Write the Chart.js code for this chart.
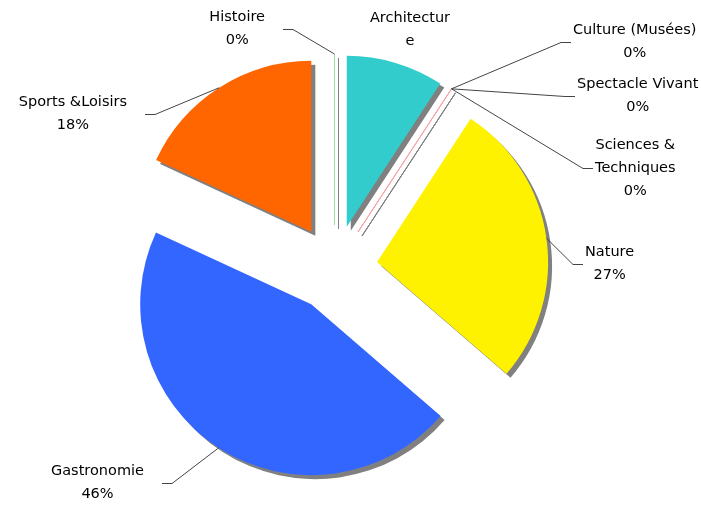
<!DOCTYPE html>
<html>
<head>
<meta charset="utf-8">
<script src="https://cdn.jsdelivr.net/npm/chart.js@4/dist/chart.umd.min.js"></script>
<style>
  html, body { margin: 0; padding: 0; background: #fff; }
  #wrap { width: 701px; height: 505px; position: relative; }
</style>
</head>
<body>
<div id="wrap"><canvas id="pieChart"></canvas></div>
<script>
// categories, clockwise from 12 o'clock
const categories = ['Architecture', 'Culture (Musées)', 'Spectacle Vivant', 'Sciences & Techniques', 'Nature', 'Gastronomie', 'Sports &Loisirs', 'Histoire'];
// share of each category (%)
const shares = [9.2, 0, 0, 0, 27.1, 45.5, 18.1, 0];
// name lines as printed on the chart (percentage appended where shown)
const nameLines = [['Architectur', 'e'], ['Culture (Musées)'], ['Spectacle Vivant'], ['Sciences &', 'Techniques'], ['Nature'], ['Gastronomie'], ['Sports &Loisirs'], ['Histoire']];
const showPct = [false, true, true, true, true, true, true, true];

const sliceColors = ['#33cccc', '#f4a6a6', '#f4a6a6', '#f4a6a6', '#fff200', '#3366ff', '#ff6600', '#9ee09e'];

// label placement: elbow of the leader line and side of the text
const labelLayout = [
  { x: 410, y: 30, side: 'none' },
  { x: 561, y: 42, side: 'right' },
  { x: 565, y: 96, side: 'right' },
  { x: 583, y: 168, side: 'right' },
  { x: 573, y: 264, side: 'right' },
  { x: 172, y: 483, side: 'left' },
  { x: 155, y: 114, side: 'left' },
  { x: 293, y: 29, side: 'left' }
];

const EXPLODE = 43;
const FONT = '14.5px "DejaVu Sans"';
const LINE_H = 23;

const total = shares.reduce((a, b) => a + b, 0);

const explodePlugin = {
  id: 'explode',
  beforeDatasetDraw(chart, args) {
    const ctx = chart.ctx;
    args.meta.data.forEach(arc => {
      const mid = (arc.startAngle + arc.endAngle) / 2;
      arc._home = [arc.x, arc.y];
      arc.x += Math.cos(mid) * EXPLODE;
      arc.y += Math.sin(mid) * EXPLODE;
    });
    ctx.save();
    ctx.shadowColor = '#808080';
    ctx.shadowOffsetX = 4;
    ctx.shadowOffsetY = 4;
    ctx.shadowBlur = 0;
  },
  afterDatasetDraw(chart, args) {
    const ctx = chart.ctx;
    const arcs = args.meta.data;
    // empty slices show as thin lines
    arcs.forEach((arc, i) => {
      if (arc.endAngle - arc.startAngle > 0) return;
      ctx.strokeStyle = sliceColors[i];
      ctx.lineWidth = 1;
      ctx.beginPath();
      ctx.moveTo(arc.x, arc.y);
      ctx.lineTo(arc.x + Math.cos(arc.startAngle) * arc.outerRadius, arc.y + Math.sin(arc.startAngle) * arc.outerRadius);
      ctx.stroke();
    });
    ctx.restore();

    // leader lines and labels
    ctx.save();
    ctx.font = FONT;
    ctx.fillStyle = '#000';
    ctx.textAlign = 'center';
    ctx.textBaseline = 'middle';
    arcs.forEach((arc, i) => {
      const lay = labelLayout[i];
      const lines = nameLines[i].slice();
      if (showPct[i]) lines.push(Math.round(shares[i] / total * 100) + '%');
      const w = Math.max(...lines.map(t => ctx.measureText(t).width));
      let cx = lay.x;
      if (lay.side !== 'none') {
        const mid = (arc.startAngle + arc.endAngle) / 2;
        const sx = arc.x + Math.cos(mid) * arc.outerRadius;
        const sy = arc.y + Math.sin(mid) * arc.outerRadius;
        const dir = lay.side === 'right' ? 1 : -1;
        const tickEnd = lay.x + dir * 10;
        ctx.strokeStyle = '#444';
        ctx.lineWidth = 1;
        ctx.beginPath();
        ctx.moveTo(sx, sy);
        ctx.lineTo(lay.x, lay.y + 0.5);
        ctx.lineTo(tickEnd, lay.y + 0.5);
        ctx.stroke();
        cx = dir > 0 ? tickEnd + 2 + w / 2 : tickEnd - 18 - w / 2;
        // keep the text inside the canvas
        cx = Math.min(cx, chart.width - 2 - w / 2);
      }
      lines.forEach((t, k) => {
        ctx.fillText(t, cx, lay.y + (k - (lines.length - 1) / 2) * LINE_H);
      });
    });
    ctx.restore();

    arcs.forEach(arc => {
      if (arc._home) { arc.x = arc._home[0]; arc.y = arc._home[1]; }
    });
  }
};

new Chart(document.getElementById('pieChart'), {
  type: 'pie',
  data: {
    labels: categories,
    datasets: [{
      data: shares,
      backgroundColor: sliceColors,
      borderWidth: 0,
      radius: 171,
      clip: false
    }]
  },
  options: {
    responsive: true,
    maintainAspectRatio: false,
    animation: false,
    events: [],
    layout: { padding: { left: 0, right: 32, top: 31, bottom: 0 } },
    plugins: {
      legend: { display: false },
      tooltip: { enabled: false }
    }
  },
  plugins: [explodePlugin]
});
</script>
</body>
</html>
